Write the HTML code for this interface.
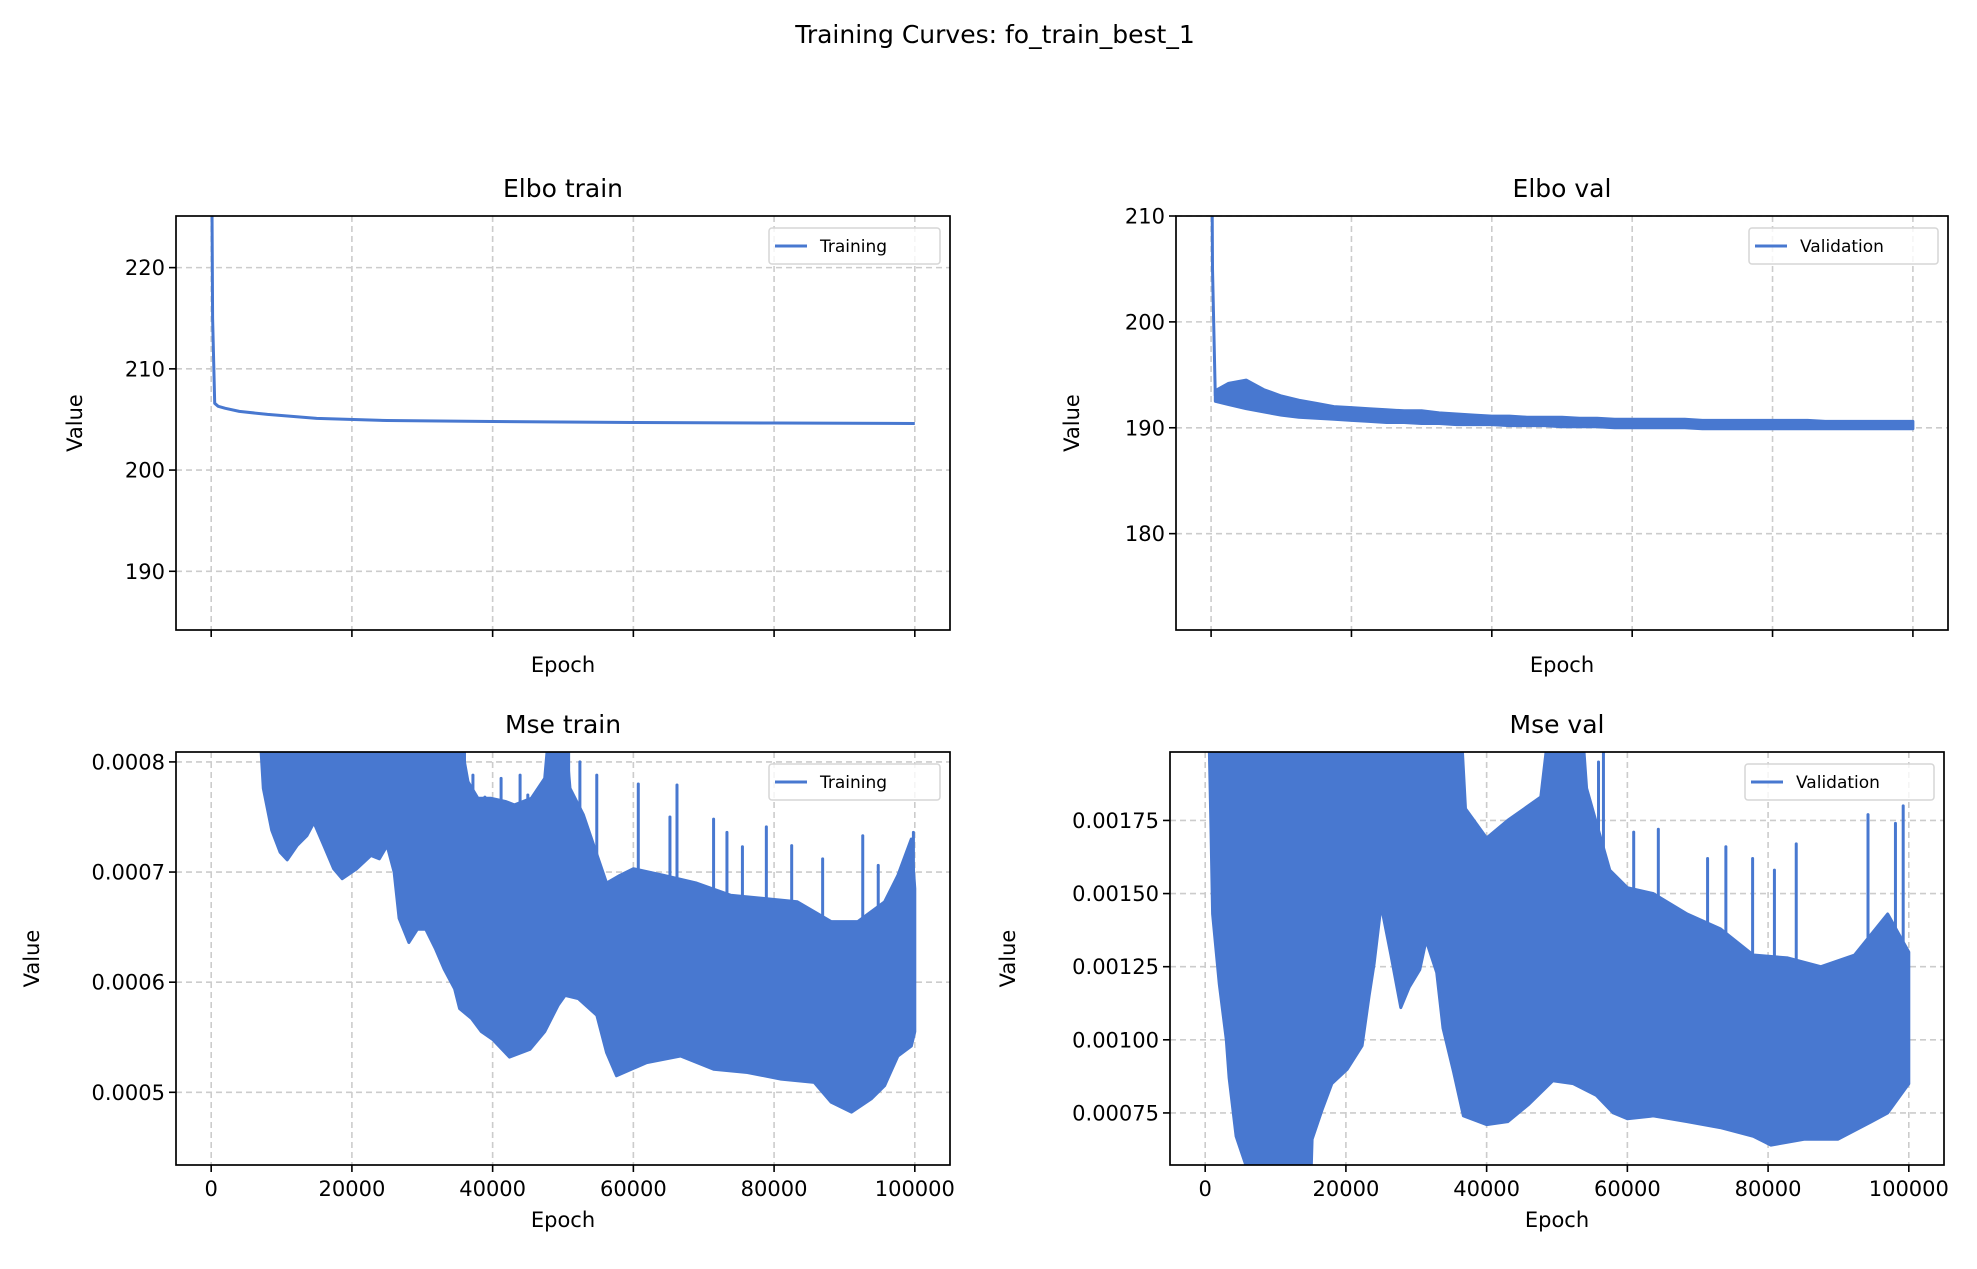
<!DOCTYPE html>
<html><head><meta charset="utf-8">
<style>
html,body{margin:0;padding:0;background:#fff;}
svg{display:block;font-family:"DejaVu Sans","Liberation Sans",sans-serif;}
</style></head>
<body>
<svg id="fig" width="1977" height="1269" viewBox="0 0 1977 1269" xmlns="http://www.w3.org/2000/svg">
<rect width="1977" height="1269" fill="#fff"/>
<text x="995" y="43" font-size="25" text-anchor="middle" fill="#000">Training Curves: fo_train_best_1</text>
</svg>
<script>
// ---- data ----
const epochTicks = [0, 20000, 40000, 60000, 80000, 100000];
const epochTickLabels = ["0", "20000", "40000", "60000", "80000", "100000"];

const elboTrainEpochs = [0,200,500,1000,2000,4000,8000,15000,25000,40000,60000,80000,100000];
const elboTrainValues = [240,215,206.6,206.3,206.1,205.8,205.5,205.1,204.9,204.8,204.7,204.65,204.6];
const elboTrainTicks = [190,200,210,220];

const elboValStartEpochs = [0,200,600];
const elboValStartValues = [230,205,193];
const elboValEpochs = [600,2500,5000,7500,10000,12500,15000,17500,20000,22500,25000,27500,30000,32500,35000,37500,40000,42500,45000,47500,50000,52500,55000,57500,60000,62500,65000,67500,70000,72500,75000,77500,80000,82500,85000,87500,90000,92500,95000,97500,100000];
const elboValLo = [192.5,192.2,191.8,191.5,191.2,191.0,190.9,190.8,190.7,190.6,190.5,190.5,190.4,190.4,190.3,190.3,190.3,190.2,190.2,190.2,190.1,190.1,190.1,190.0,190.0,190.0,190.0,190.0,189.9,189.9,189.9,189.9,189.9,189.9,189.9,189.9,189.9,189.9,189.9,189.9,189.9];
const elboValHi = [193.5,194.2,194.5,193.6,193.0,192.6,192.3,192.0,191.9,191.8,191.7,191.6,191.6,191.4,191.3,191.2,191.1,191.1,191.0,191.0,191.0,190.9,190.9,190.8,190.8,190.8,190.8,190.8,190.7,190.7,190.7,190.7,190.7,190.7,190.7,190.6,190.6,190.6,190.6,190.6,190.6];
const elboValTicks = [180,190,200,210];

const mseTrainLoEpochs = [7000,7400,8600,9800,10800,12200,13600,14600,16000,17400,18600,20700,22700,23900,25000,26000,26700,28100,29300,30500,31900,33100,34600,35300,37000,38400,40000,42400,45300,47400,49300,50300,52200,54800,56200,57600,61900,66700,71400,76200,81000,85700,88100,91000,93800,95700,97600,99500,100000];
const mseTrainLoValues = [0.00082,0.000776,0.000738,0.000718,0.000711,0.000724,0.000733,0.000745,0.000724,0.000703,0.000694,0.000703,0.000715,0.000712,0.000724,0.0007,0.000658,0.000636,0.000648,0.000648,0.00063,0.000612,0.000594,0.000576,0.000567,0.000555,0.000548,0.000532,0.000539,0.000555,0.000579,0.000588,0.000585,0.00057,0.000536,0.000515,0.000527,0.000533,0.000521,0.000518,0.000512,0.000509,0.000491,0.000482,0.000494,0.000506,0.000533,0.000542,0.000555];
const mseTrainHiEpochs = [7000,34600,36500,37900,39800,41900,43100,45500,47400,48300,50000,51000,52900,56200,58100,60000,64300,69000,73800,78600,83300,88100,91900,95700,97600,99500,100000];
const mseTrainHiValues = [0.0009,0.00085,0.000782,0.000767,0.000767,0.000764,0.000761,0.000767,0.000785,0.00085,0.00085,0.000776,0.000752,0.00069,0.000697,0.000703,0.000697,0.00069,0.000679,0.000676,0.000673,0.000655,0.000655,0.000673,0.000697,0.00073,0.000685];
const mseTrainSpikeEpochs = [36000,37200,38900,41200,43900,45000,46500,48600,50800,52400,54800,60700,65200,66200,71400,73300,75500,78900,82500,86900,92600,94800,99800];
const mseTrainSpikeValues = [0.00081,0.000788,0.000768,0.000785,0.000788,0.00077,0.000772,0.00082,0.00082,0.0008,0.000788,0.00078,0.00075,0.000779,0.000748,0.000736,0.000723,0.000741,0.000724,0.000712,0.000733,0.000706,0.000736];
const mseTrainTicks = [0.0005,0.0006,0.0007,0.0008];

const mseValLoEpochs = [600,800,1050,2000,3000,3400,4400,5800,6000,15000,15200,16600,18000,20200,22300,23300,24000,25000,26400,27800,29000,30500,31400,32900,33800,35300,36700,40000,43000,46000,49400,52300,55600,58000,60000,63700,68500,73200,77900,80400,85100,89900,94700,97000,100000];
const mseValLoValues = [0.00198,0.00175,0.00143,0.00119,0.001,0.00087,0.00067,0.00057,0.0005,0.0005,0.00066,0.00076,0.00085,0.0009,0.00098,0.00115,0.00126,0.00146,0.00129,0.00111,0.00118,0.00124,0.00134,0.00123,0.00104,0.00089,0.00074,0.00071,0.00072,0.00078,0.00086,0.00085,0.00081,0.00075,0.00073,0.00074,0.00072,0.0007,0.00067,0.00064,0.00066,0.00066,0.00072,0.00075,0.00085];
const mseValHiEpochs = [600,36300,37000,40000,43000,47700,49000,53500,54200,57500,60000,63700,68500,73200,77900,82800,87500,92300,97000,100000];
const mseValHiValues = [0.0021,0.0021,0.00179,0.00169,0.00175,0.00183,0.0021,0.0021,0.00186,0.00158,0.00152,0.0015,0.00143,0.00138,0.00129,0.00128,0.00125,0.00129,0.00143,0.0013];
const mseValSpikeEpochs = [55900,56600,60900,64400,71400,74000,77800,80900,84000,94200,98100,99200];
const mseValSpikeValues = [0.00195,0.002,0.00171,0.00172,0.00162,0.00166,0.00162,0.00158,0.00167,0.00177,0.00174,0.0018];
const mseValTicks = [0.00075,0.00100,0.00125,0.00150,0.00175];

// ---- layout ----
const NS = "http://www.w3.org/2000/svg";
const svg = document.getElementById('fig');
const COLOR = "#4878d0";
const XMIN = -5000, XMAX = 105000;
function mk(tag, attrs, parent) {
  const e = document.createElementNS(NS, tag);
  for (const k in attrs) e.setAttribute(k, attrs[k]);
  (parent || svg).appendChild(e);
  return e;
}
function panel(id, box, ylim, yticks, ylabels, title, legendText, showXLabels, ylabelX) {
  const g = mk('g', {});
  
  
  const [L, T, R, B] = box;
  const sx = v => L + (v - XMIN) / (XMAX - XMIN) * (R - L);
  const sy = v => B - (v - ylim[0]) / (ylim[1] - ylim[0]) * (B - T);
  const clip = mk('clipPath', {id: 'clip-' + id}, g);
  mk('rect', {x: L, y: T, width: R - L, height: B - T}, clip);
  epochTicks.forEach((t, i) => {
    const x = sx(t);
    const gl = mk('line', {x1: x, x2: x, y1: T, y2: B, stroke: '#cccccc', 'stroke-width': 1.6, 'stroke-dasharray': '6,4'}, g);
    
    
    mk('line', {x1: x, x2: x, y1: B, y2: B + 7, stroke: '#000', 'stroke-width': 1.6}, g);
    if (showXLabels) {
      const tl = mk('text', {x: x, y: B + 31, 'font-size': 21, 'text-anchor': 'middle'}, g);
      tl.textContent = epochTickLabels[i];
      
      
    }
  });
  yticks.forEach((t, i) => {
    const y = sy(t);
    const gl = mk('line', {x1: L, x2: R, y1: y, y2: y, stroke: '#cccccc', 'stroke-width': 1.6, 'stroke-dasharray': '6,4'}, g);
    
    
    mk('line', {x1: L - 7, x2: L, y1: y, y2: y, stroke: '#000', 'stroke-width': 1.6}, g);
    const tl = mk('text', {x: L - 11, y: y + 7.5, 'font-size': 21, 'text-anchor': 'end'}, g);
    tl.textContent = ylabels[i];
    
    
  });
  const data = mk('g', {'clip-path': 'url(#clip-' + id + ')'}, g);
  const tt = mk('text', {x: (L + R) / 2, y: T - 19, 'font-size': 25, 'text-anchor': 'middle'}, g);
  tt.textContent = title;
  
  
  const xl = mk('text', {x: (L + R) / 2, y: B + (showXLabels ? 62 : 42), 'font-size': 21, 'text-anchor': 'middle'}, g);
  xl.textContent = 'Epoch';
  
  
  const yl = mk('text', {x: ylabelX, y: (T + B) / 2, 'font-size': 21, 'text-anchor': 'middle', transform: 'rotate(-90 ' + ylabelX + ' ' + (T + B) / 2 + ')'}, g);
  yl.textContent = 'Value';
  
  
  return {g, data, sx, sy, L, T, R, B, legendText, id};
}
function finish(p) {
  const {g, L, T, R, B} = p;
  const fr = mk('rect', {x: L, y: T, width: R - L, height: B - T, fill: 'none', stroke: '#000', 'stroke-width': 1.7}, g);
  
  
  const w = p.legendText === 'Training' ? 171 : 189;
  const lg = mk('g', {}, g);
  
  
  const lx = R - 10 - w, ly = T + 12;
  mk('rect', {x: lx, y: ly, width: w, height: 36, rx: 3, fill: '#fff', 'fill-opacity': 0.8, stroke: '#d6d6d6', 'stroke-width': 1.5}, lg);
  mk('line', {x1: lx + 6, x2: lx + 38, y1: ly + 18, y2: ly + 18, stroke: COLOR, 'stroke-width': 3}, lg);
  const t = mk('text', {x: lx + 51, y: ly + 24, 'font-size': 17}, lg);
  t.textContent = p.legendText;
  
  
}
function line(p, xs, ys, name) {
  const pts = xs.map((x, i) => p.sx(x).toFixed(1) + ',' + p.sy(ys[i]).toFixed(1)).join(' ');
  const l = mk('polyline', {points: pts, fill: 'none', stroke: COLOR, 'stroke-width': 3, 'stroke-linejoin': 'round'}, p.data);
  
  
}
function band(p, hx, hy, lx, ly, name) {
  let d = '';
  hx.forEach((x, i) => { d += (i ? 'L' : 'M') + p.sx(x).toFixed(1) + ',' + p.sy(hy[i]).toFixed(1); });
  for (let i = lx.length - 1; i >= 0; i--) d += 'L' + p.sx(lx[i]).toFixed(1) + ',' + p.sy(ly[i]).toFixed(1);
  d += 'Z';
  const b = mk('path', {d: d, fill: COLOR, stroke: COLOR, 'stroke-width': 3, 'stroke-linejoin': 'round'}, p.data);
  
  
}
function spikes(p, xs, ys, lo, name) {
  xs.forEach((x, i) => {
    const s = mk('line', {x1: p.sx(x), x2: p.sx(x), y1: p.sy(ys[i]), y2: p.sy(lo), stroke: COLOR, 'stroke-width': 3, 'stroke-linecap': 'round'}, p.data);
    
    
  });
}

const p1 = panel('elbo-train', [176, 216, 950, 630], [184.2, 225.1], elboTrainTicks, elboTrainTicks.map(String), 'Elbo train', 'Training', false, 82);
line(p1, elboTrainEpochs, elboTrainValues, 'elbo-train-line');
finish(p1);

const p2 = panel('elbo-val', [1176, 216, 1948, 630], [170.9, 210], elboValTicks, elboValTicks.map(String), 'Elbo val', 'Validation', false, 1079);
line(p2, elboValStartEpochs, elboValStartValues, 'elbo-val-initial-line');
band(p2, elboValEpochs, elboValHi, elboValEpochs, elboValLo, 'elbo-val-band');
finish(p2);

const p3 = panel('mse-train', [176, 752, 950, 1165], [0.000434, 0.000809], mseTrainTicks, mseTrainTicks.map(v => v.toFixed(4)), 'Mse train', 'Training', true, 39);
band(p3, mseTrainHiEpochs, mseTrainHiValues, mseTrainLoEpochs, mseTrainLoValues, 'mse-train-band');
spikes(p3, mseTrainSpikeEpochs, mseTrainSpikeValues, 0.00065, 'mse-train-spike');
finish(p3);

const p4 = panel('mse-val', [1170, 752, 1944, 1165], [0.000572, 0.001984], mseValTicks, mseValTicks.map(v => v.toFixed(5)), 'Mse val', 'Validation', true, 1015);
band(p4, mseValHiEpochs, mseValHiValues, mseValLoEpochs, mseValLoValues, 'mse-val-band');
spikes(p4, mseValSpikeEpochs, mseValSpikeValues, 0.0011, 'mse-val-spike');
finish(p4);
</script>
</body></html>
